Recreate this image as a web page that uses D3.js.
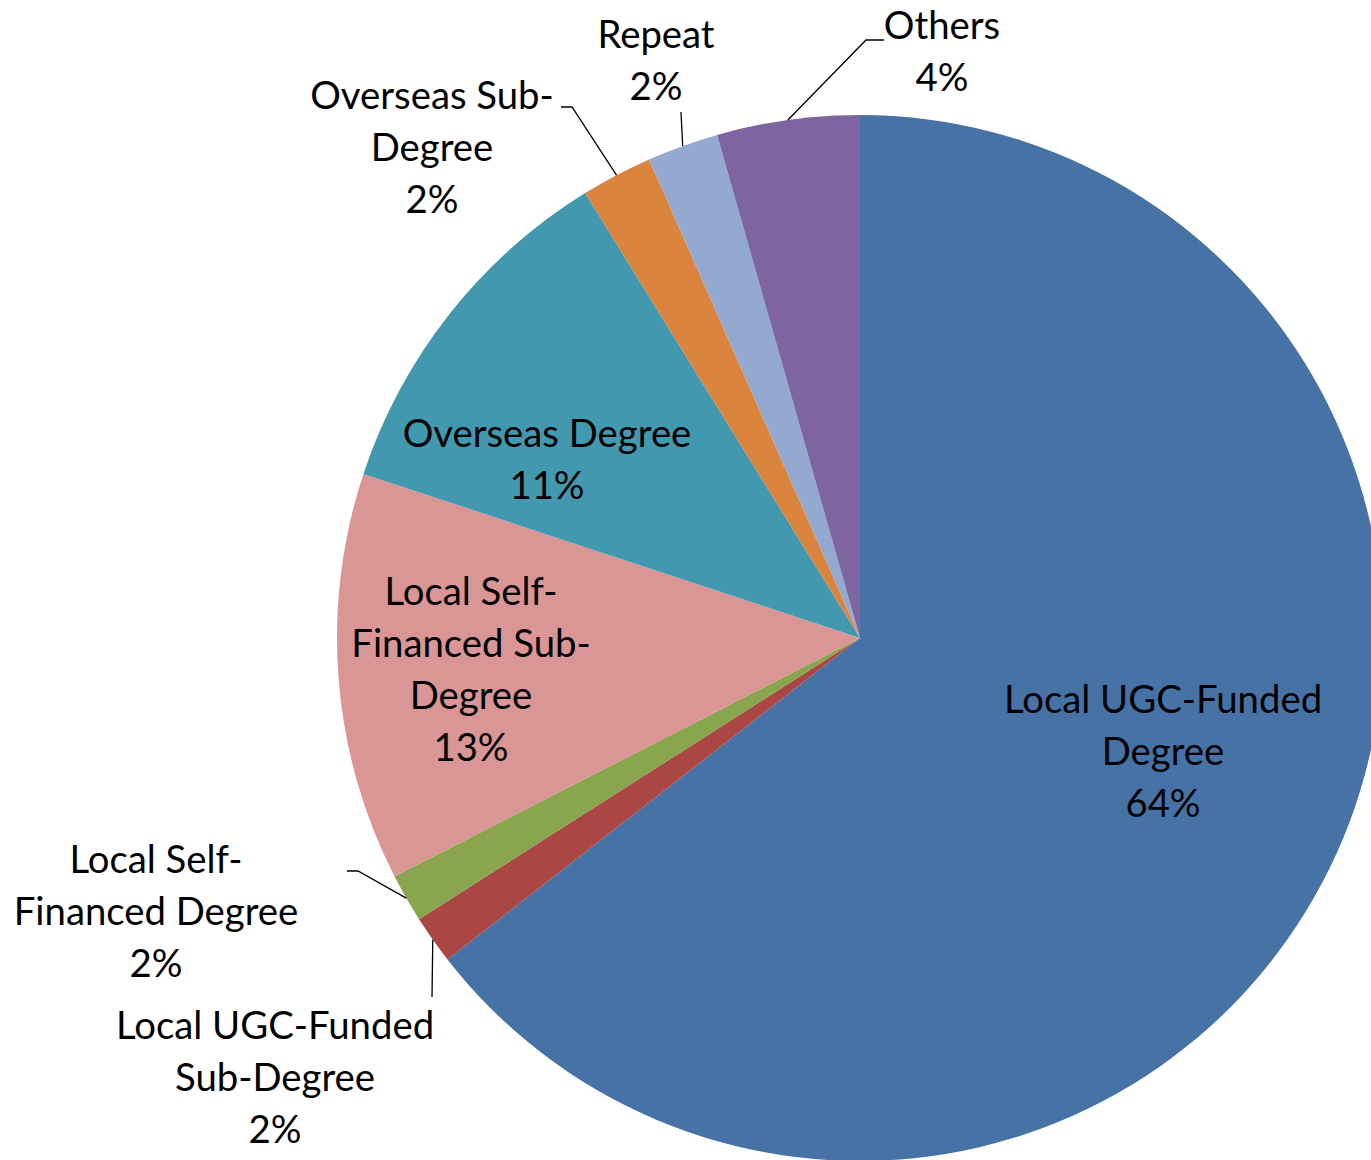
<!DOCTYPE html>
<html>
<head>
<meta charset="utf-8">
<script src="https://cdn.jsdelivr.net/npm/d3@7"></script>
<style>
  html, body { margin: 0; padding: 0; background: #fff; }
  svg { display: block; }
  text { font-family: Lato, "Noto Sans", sans-serif; fill: #000; }
</style>
</head>
<body>
<svg id="chart"></svg>
<script>
const categories = [
  'Local UGC-Funded Degree',
  'Local UGC-Funded Sub-Degree',
  'Local Self-Financed Degree',
  'Local Self-Financed Sub-Degree',
  'Overseas Degree',
  'Overseas Sub-Degree',
  'Repeat',
  'Others',
];
const shares = [64.4, 1.5, 1.5, 12.6, 11.1, 2.2, 2.2, 4.4];
const labelLines = [
  ['Local UGC-Funded', 'Degree'],
  ['Local UGC-Funded', 'Sub-Degree'],
  ['Local Self-', 'Financed Degree'],
  ['Local Self-', 'Financed Sub-', 'Degree'],
  ['Overseas Degree'],
  ['Overseas Sub-', 'Degree'],
  ['Repeat'],
  ['Others'],
];

const colors = ['#4672a6', '#aa4643', '#89a54e', '#d99694', '#4198af', '#db843d', '#93a9cf', '#7e64a0'];

const width = 1371;
const height = 1160;
const cx = 860;
const cy = 638;
const radius = 523;
const fontSize = 38.3;
const lineHeight = 52;

// label block centre, relative to pie centre; leader: points after the arc edge
const labelLayout = [
  { x: 303, y: 114 },
  { x: -585, y: 440, leader: [[-428, 359]] },
  { x: -704, y: 274, leader: [[-502, 233], [-513, 233]] },
  { x: -389, y: 32 },
  { x: -313, y: -178 },
  { x: -428, y: -490, leader: [[-288, -531], [-299, -531]] },
  { x: -204, y: -577, leader: [[-179, -526]] },
  { x: 82, y: -586, leader: [[6, -598], [24, -598]] },
];

const data = categories.map((name, i) => ({
  name, value: shares[i], lines: labelLines[i], color: colors[i], layout: labelLayout[i],
}));
const total = d3.sum(shares);

const svg = d3.select('#chart')
  .attr('width', width)
  .attr('height', height);

const g = svg.append('g').attr('transform', `translate(${cx},${cy})`);

const pie = d3.pie().sort(null).value((d) => d.value);
const arc = d3.arc().innerRadius(0).outerRadius(radius);
const arcs = pie(data);

g.selectAll('path.slice')
  .data(arcs)
  .join('path')
  .attr('class', 'slice')
  .attr('d', arc)
  .attr('fill', (d) => d.data.color);

// leader lines start at the arc edge, mid-angle
const edge = d3.arc().innerRadius(radius).outerRadius(radius);
g.selectAll('path.leader')
  .data(arcs.filter((d) => d.data.layout.leader))
  .join('path')
  .attr('class', 'leader')
  .attr('d', (d) => d3.line()([edge.centroid(d), ...d.data.layout.leader]))
  .attr('fill', 'none')
  .attr('stroke', '#000')
  .attr('stroke-width', 1.3);

const labels = g.selectAll('text.label')
  .data(arcs)
  .join('text')
  .attr('class', 'label')
  .attr('text-anchor', 'middle')
  .attr('font-size', fontSize);

labels.each(function (d) {
  const lines = [...d.data.lines, `${Math.round((d.data.value / total) * 100)}%`];
  const top = d.data.layout.y - ((lines.length - 1) * lineHeight) / 2;
  d3.select(this).selectAll('tspan')
    .data(lines)
    .join('tspan')
    .attr('x', d.data.layout.x)
    .attr('y', (l, i) => top + i * lineHeight)
    .attr('dy', '0.35em')
    .text((l) => l);
});
</script>
</body>
</html>
